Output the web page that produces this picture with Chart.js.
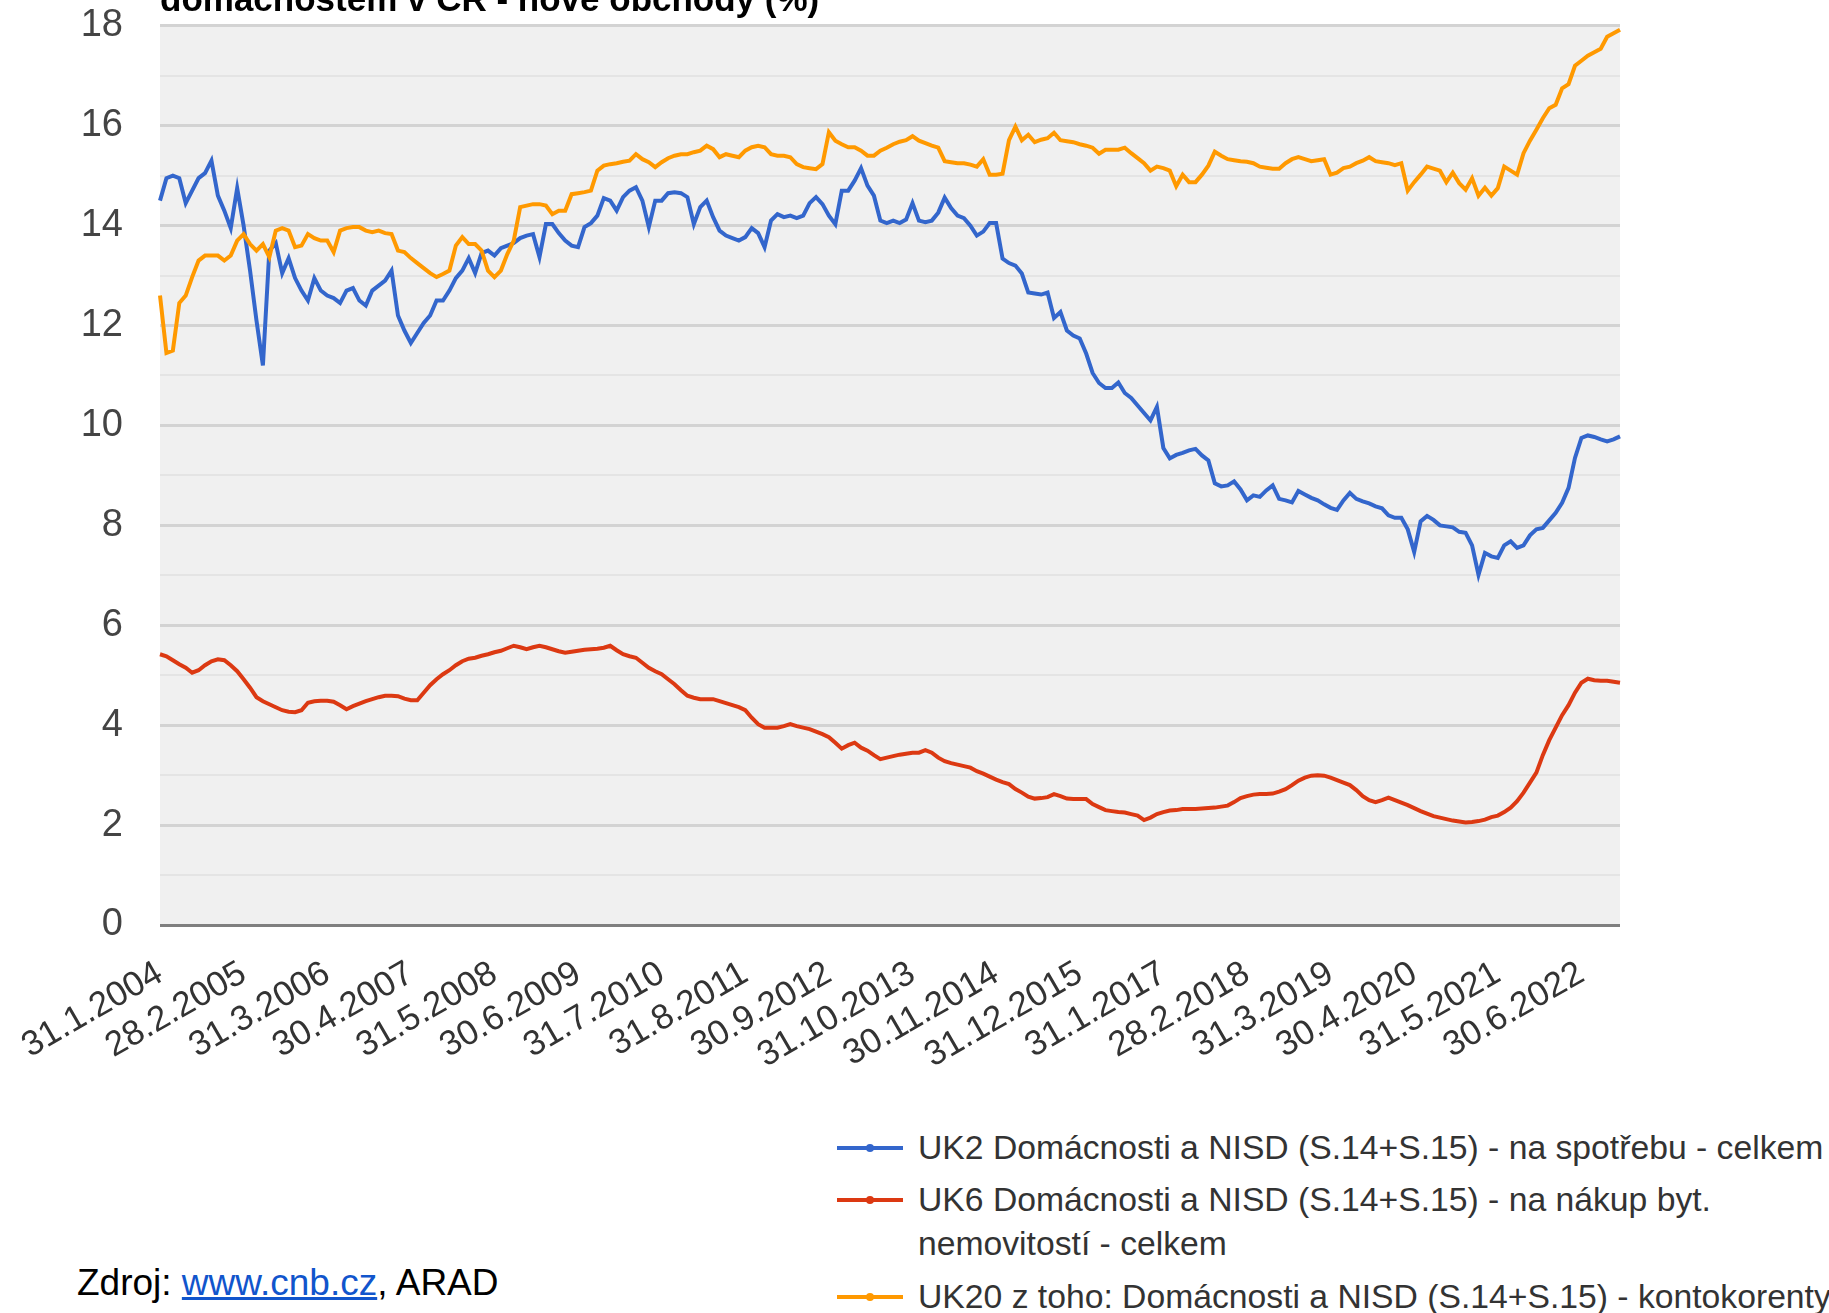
<!DOCTYPE html>
<html lang="cs">
<head>
<meta charset="utf-8">
<title>Úrokové sazby</title>
<script src="https://cdn.jsdelivr.net/npm/chart.js@4.4.1/dist/chart.umd.min.js"></script>
<style>
  html, body { margin:0; padding:0; background:#fff; }
  body { width:1829px; height:1313px; overflow:hidden; position:relative; font-family:"Liberation Sans", Arial, sans-serif; }
  #wrap { position:absolute; left:0; top:-34px; width:1661px; height:1134px; }
  #title { position:absolute; left:160px; top:-19px; font-size:35px; line-height:35px; font-weight:bold; color:#000; white-space:nowrap; z-index:2; }
  .leg { position:absolute; left:837px; font-size:33.7px; color:#333; white-space:nowrap; }
  .leg .sw { position:absolute; left:0; width:66px; height:4px; }
  .leg .sw::after { content:""; position:absolute; left:29px; top:-2px; width:8px; height:8px; border-radius:50%; background:inherit; }
  .leg .tx { position:absolute; left:81px; line-height:44px; }
  #src { position:absolute; left:77px; top:1262px; font-size:37px; line-height:42px; color:#000; white-space:nowrap; }
  #src a { color:#1155cc; text-decoration:underline; }
</style>
</head>
<body>
<div id="wrap"><canvas id="c" width="1661" height="1134"></canvas></div>
<div id="title">domácnostem v ČR - nové obchody (%)</div>

<div class="leg" style="top:1125px;"><div class="sw" style="top:21px;background:#3366cc"></div><div class="tx" style="top:0">UK2 Domácnosti a NISD (S.14+S.15) - na spotřebu - celkem</div></div>
<div class="leg" style="top:1177px;"><div class="sw" style="top:21px;background:#dc3912"></div><div class="tx" style="top:0">UK6 Domácnosti a NISD (S.14+S.15) - na nákup byt.<br>nemovitostí - celkem</div></div>
<div class="leg" style="top:1274px;"><div class="sw" style="top:21px;background:#ff9900"></div><div class="tx" style="top:0">UK20 z toho: Domácnosti a NISD (S.14+S.15) - kontokorenty</div></div>

<div id="src">Zdroj: <a href="#">www.cnb.cz</a>, ARAD</div>

<script>
// ---- categories: month-end dates, Jan 2004 .. Dec 2022 ----
const startYear = 2004;
const monthCount = 228;
const categories = [];
for (let k = 0; k < monthCount; k++) {
  const y = startYear + Math.floor(k / 12), m = (k % 12) + 1;
  const d = new Date(y, m, 0).getDate();
  categories.push(d + '.' + m + '.' + y);
}

// ---- tick labels shown on the x axis ----
const tickLabels = ['31.1.2004','28.2.2005','31.3.2006','30.4.2007','31.5.2008','30.6.2009',
  '31.7.2010','31.8.2011','30.9.2012','31.10.2013','30.11.2014','31.12.2015','31.1.2017',
  '28.2.2018','31.3.2019','30.4.2020','31.5.2021','30.6.2022'];

const seriesNames = [
  'UK2 Domácnosti a NISD (S.14+S.15) - na spotřebu - celkem',
  'UK6 Domácnosti a NISD (S.14+S.15) - na nákup byt. nemovitostí - celkem',
  'UK20 z toho: Domácnosti a NISD (S.14+S.15) - kontokorenty'
];

// ---- UK2 (blue) ----
const uk2 = [
  14.5,14.95,15.0,14.95,14.45,14.7,14.95,15.05,15.3,14.6,
  14.3,13.95,14.75,14.0,13.1,12.1,11.2,13.5,13.65,13.05,
  13.35,12.95,12.7,12.5,12.95,12.7,12.6,12.55,12.45,12.7,
  12.75,12.5,12.4,12.7,12.8,12.9,13.1,12.2,11.9,11.65,
  11.85,12.05,12.2,12.5,12.5,12.7,12.95,13.1,13.35,13.05,
  13.45,13.5,13.4,13.55,13.6,13.65,13.75,13.8,13.83,13.37,
  14.03,14.03,13.85,13.7,13.6,13.57,13.97,14.05,14.2,14.55,
  14.5,14.3,14.57,14.7,14.77,14.5,13.97,14.5,14.5,14.65,
  14.67,14.65,14.57,14.03,14.37,14.5,14.17,13.9,13.8,13.75,
  13.7,13.77,13.95,13.85,13.57,14.1,14.23,14.17,14.2,14.15,
  14.2,14.45,14.57,14.43,14.2,14.03,14.7,14.7,14.9,15.15,
  14.8,14.6,14.1,14.05,14.1,14.05,14.12,14.45,14.1,14.07,
  14.1,14.26,14.56,14.35,14.2,14.15,14.0,13.8,13.88,14.05,
  14.05,13.34,13.25,13.2,13.04,12.66,12.64,12.62,12.66,12.15,
  12.27,11.9,11.8,11.74,11.44,11.05,10.85,10.75,10.75,10.86,
  10.65,10.55,10.4,10.25,10.1,10.37,9.55,9.34,9.41,9.45,
  9.5,9.53,9.4,9.3,8.84,8.78,8.8,8.88,8.72,8.5,
  8.6,8.57,8.7,8.8,8.53,8.5,8.46,8.69,8.62,8.55,
  8.5,8.42,8.35,8.31,8.5,8.65,8.53,8.48,8.44,8.38,
  8.34,8.2,8.15,8.15,7.92,7.47,8.08,8.19,8.11,8.0,
  7.98,7.96,7.87,7.85,7.6,7.01,7.45,7.38,7.35,7.6,
  7.68,7.55,7.6,7.8,7.92,7.95,8.1,8.25,8.45,8.75,
  9.35,9.75,9.8,9.77,9.72,9.68,9.72,9.78
];

// ---- UK6 (red) ----
const uk6 = [
  5.42,5.38,5.3,5.22,5.15,5.05,5.1,5.2,5.28,5.32,
  5.3,5.2,5.08,4.92,4.75,4.56,4.48,4.42,4.36,4.3,
  4.27,4.26,4.3,4.45,4.48,4.49,4.49,4.47,4.4,4.32,
  4.38,4.43,4.48,4.52,4.56,4.59,4.59,4.58,4.53,4.5,
  4.5,4.65,4.8,4.92,5.02,5.1,5.2,5.28,5.33,5.35,
  5.39,5.42,5.46,5.49,5.54,5.59,5.56,5.52,5.56,5.59,
  5.56,5.52,5.48,5.45,5.47,5.49,5.51,5.52,5.53,5.55,
  5.59,5.5,5.42,5.38,5.35,5.25,5.15,5.08,5.02,4.92,
  4.82,4.7,4.59,4.55,4.52,4.52,4.52,4.48,4.44,4.4,
  4.36,4.3,4.15,4.02,3.95,3.95,3.95,3.98,4.02,3.98,
  3.95,3.92,3.87,3.82,3.76,3.65,3.53,3.6,3.65,3.55,
  3.49,3.4,3.32,3.35,3.38,3.41,3.43,3.45,3.45,3.5,
  3.45,3.35,3.28,3.24,3.21,3.18,3.15,3.08,3.03,2.97,
  2.91,2.86,2.82,2.72,2.65,2.57,2.53,2.54,2.56,2.62,
  2.58,2.53,2.52,2.52,2.52,2.42,2.36,2.3,2.28,2.26,
  2.25,2.22,2.19,2.1,2.15,2.22,2.26,2.29,2.3,2.32,
  2.32,2.32,2.33,2.34,2.35,2.37,2.39,2.46,2.54,2.58,
  2.61,2.62,2.62,2.63,2.67,2.72,2.8,2.89,2.95,2.99,
  3.0,2.99,2.95,2.9,2.85,2.8,2.7,2.58,2.5,2.46,
  2.5,2.55,2.5,2.45,2.4,2.34,2.28,2.23,2.18,2.15,
  2.12,2.09,2.07,2.05,2.06,2.08,2.11,2.16,2.19,2.26,
  2.35,2.48,2.65,2.85,3.05,3.4,3.7,3.95,4.2,4.4,
  4.65,4.85,4.93,4.9,4.89,4.89,4.87,4.85
];

// ---- UK20 (orange) ----
const uk20 = [
  12.6,11.45,11.5,12.45,12.6,12.97,13.3,13.4,13.4,13.4,
  13.3,13.4,13.7,13.83,13.63,13.5,13.63,13.37,13.9,13.95,
  13.9,13.57,13.6,13.83,13.75,13.7,13.7,13.47,13.9,13.95,
  13.97,13.97,13.9,13.87,13.9,13.85,13.83,13.5,13.47,13.35,
  13.25,13.15,13.05,12.97,13.03,13.1,13.6,13.77,13.63,13.63,
  13.5,13.1,12.97,13.1,13.43,13.7,14.37,14.4,14.43,14.43,
  14.4,14.23,14.3,14.3,14.63,14.65,14.67,14.7,15.1,15.2,
  15.23,15.25,15.28,15.3,15.43,15.33,15.27,15.17,15.27,15.35,
  15.4,15.43,15.43,15.47,15.5,15.6,15.53,15.37,15.43,15.4,
  15.37,15.5,15.57,15.6,15.57,15.43,15.4,15.4,15.37,15.23,
  15.17,15.15,15.13,15.23,15.87,15.7,15.63,15.57,15.57,15.5,
  15.4,15.4,15.5,15.56,15.63,15.68,15.71,15.79,15.7,15.65,
  15.6,15.56,15.29,15.27,15.25,15.25,15.22,15.18,15.33,15.02,
  15.02,15.04,15.71,15.98,15.71,15.82,15.67,15.72,15.75,15.86,
  15.71,15.69,15.67,15.63,15.6,15.56,15.44,15.52,15.52,15.52,
  15.56,15.45,15.35,15.25,15.1,15.18,15.15,15.1,14.79,15.02,
  14.87,14.87,15.02,15.2,15.48,15.4,15.33,15.31,15.29,15.28,
  15.25,15.18,15.16,15.14,15.14,15.25,15.33,15.37,15.33,15.29,
  15.31,15.33,15.02,15.06,15.15,15.18,15.25,15.3,15.37,15.29,
  15.27,15.25,15.21,15.25,14.7,14.87,15.02,15.18,15.14,15.1,
  14.87,15.06,14.85,14.72,14.95,14.6,14.76,14.6,14.75,15.18,
  15.1,15.02,15.45,15.7,15.92,16.15,16.35,16.42,16.75,16.83,
  17.2,17.3,17.4,17.47,17.54,17.78,17.85,17.92
];

const yTickValues = [0,2,4,6,8,10,12,14,16,18];

const plotBg = {
  id: 'plotBg',
  beforeDraw(chart) {
    const { ctx, chartArea: a } = chart;
    ctx.save();
    ctx.fillStyle = '#f0f0f0';
    ctx.fillRect(a.left, a.top, a.right - a.left, a.bottom - a.top);
    ctx.restore();
  }
};

new Chart(document.getElementById('c'), {
  type: 'line',
  data: {
    labels: categories,
    datasets: [
      { label: seriesNames[0], data: uk2, borderColor: '#3366cc', backgroundColor: '#3366cc', order: 2 },
      { label: seriesNames[1], data: uk6, borderColor: '#dc3912', backgroundColor: '#dc3912', order: 1 },
      { label: seriesNames[2], data: uk20, borderColor: '#ff9900', backgroundColor: '#ff9900', order: 0 }
    ]
  },
  options: {
    responsive: false,
    animation: false,
    devicePixelRatio: 1,
    layout: { padding: { left: 0, top: 23, right: 20, bottom: 0 } },
    elements: {
      line: { borderWidth: 4, tension: 0 },
      point: { radius: 0, hoverRadius: 0 }
    },
    plugins: { legend: { display: false }, tooltip: { enabled: false }, title: { display: false } },
    scales: {
      x: {
        type: 'category',
        offset: false,
        grid: { display: false },
        border: { display: false },
        afterFit: (s) => { s.height = 175; },
        ticks: {
          autoSkip: false,
          maxRotation: 30,
          minRotation: 30,
          padding: 20,
          color: '#333',
          font: { family: '"Liberation Sans", Arial, sans-serif', size: 35 },
          callback: function (val, idx) {
            const lab = categories[idx];
            return tickLabels.includes(lab) ? lab : '';
          }
        }
      },
      y: {
        min: 0,
        max: 18,
        afterFit: (s) => { s.width = 160; },
        border: { display: false },
        grid: {
          drawTicks: false,
          color: (c) => c.tick.value === 0 ? '#7f7f7f' : (c.tick.value % 2 === 0 ? '#d3d3d3' : '#e4e4e4'),
          lineWidth: (c) => c.tick.value === 0 ? 3 : (c.tick.value % 2 === 0 ? 3 : 2)
        },
        ticks: {
          stepSize: 1,
          padding: 37,
          color: '#444',
          font: { family: '"Liberation Sans", Arial, sans-serif', size: 38 },
          callback: (v) => yTickValues.includes(v) ? String(v) : ''
        }
      }
    }
  },
  plugins: [plotBg]
});
</script>
</body>
</html>
